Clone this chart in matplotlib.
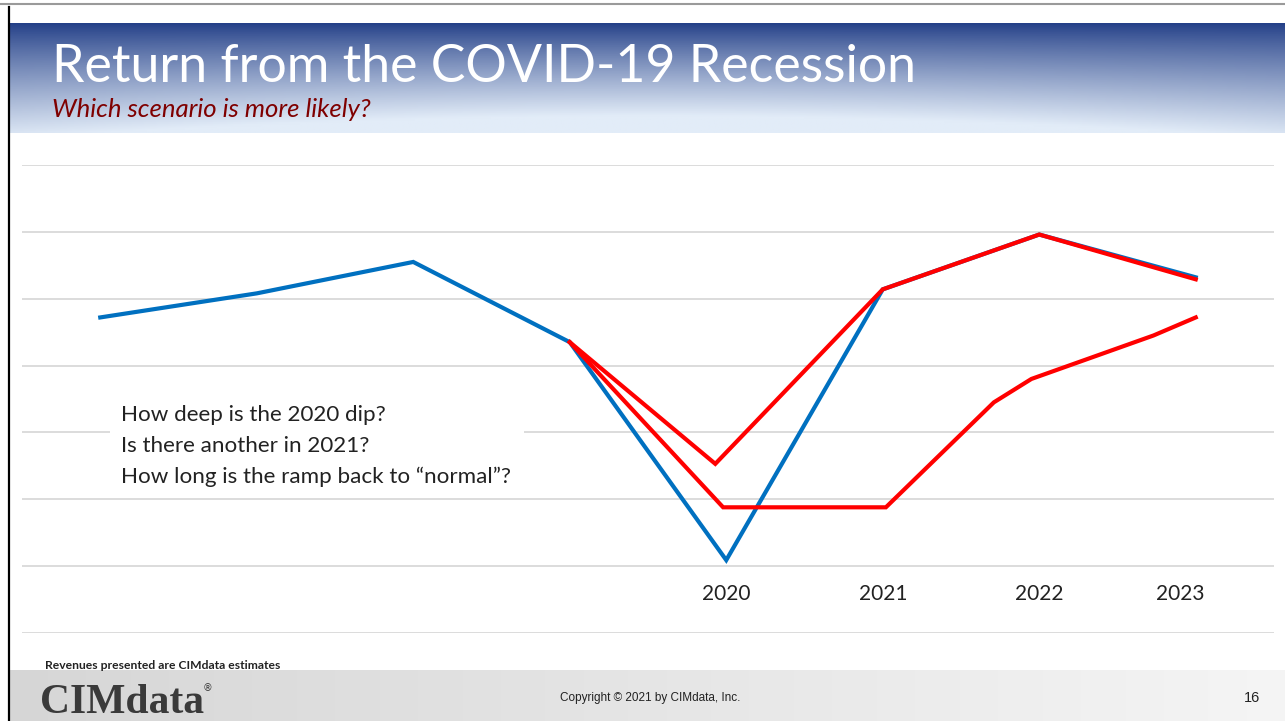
import matplotlib.pyplot as plt
import numpy as np
from matplotlib.patches import Rectangle
from matplotlib.lines import Line2D

# data (category index 0..7, value in gridline units)
blue_x = [0, 1, 2, 3, 4, 5, 6, 7]
blue_y = [4.72, 5.08, 5.55, 4.35, 1.09, 5.14, 5.96, 5.32]

red_v_x = [3, 3.93, 5, 6, 7]
red_v_y = [4.35, 2.53, 5.14, 5.96, 5.29]

red_slow_x = [3, 3.98, 5.02, 5.71, 5.95, 6.73, 7]
red_slow_y = [4.35, 1.88, 1.88, 3.45, 3.80, 4.45, 4.72]

year_labels = ["2020", "2021", "2022", "2023"]
year_pos = [4, 5, 6, 6.9]

questions = [
    "How deep is the 2020 dip?",
    "Is there another in 2021?",
    "How long is the ramp back to \u201cnormal\u201d?",
]

W, H = 1285, 721
fig = plt.figure(figsize=(W / 100, H / 100), dpi=100)
fig.patch.set_facecolor("white")


def fx(px):
    return px / W


def fy(py):
    return 1 - py / H


# header gradient band
hdr = fig.add_axes([fx(10), fy(133), fx(W - 10), (133 - 23) / H])
t = np.linspace(0, 1, 60)[:, None]
s = np.linspace(0, 1, 200)[None, :]
top = np.array([36, 64, 136]) / 255
bot = np.array([226, 236, 248]) / 255
mix = np.clip(t ** 0.85 * (0.8 + 0.2 * np.sin(np.pi * s)) + 0.15 * t, 0, 1)
img = top[None, None, :] * (1 - mix[..., None]) + bot[None, None, :] * mix[..., None]
hdr.imshow(img, aspect="auto", extent=[0, 1, 0, 1], origin="upper")
hdr.axis("off")

# footer gray band
ftr = fig.add_axes([fx(10), 0, fx(W - 10), (H - 670) / H])
g = np.linspace(0.84, 0.96, 200)[None, :]
ftr.imshow(np.repeat(g[..., None], 3, axis=2).repeat(10, axis=0), aspect="auto",
           extent=[0, 1, 0, 1])
ftr.axis("off")

# border lines
fig.add_artist(Line2D([fx(9), fx(9)], [fy(7), 0], color="black", lw=1.6))
fig.add_artist(Line2D([0, 1], [fy(4), fy(4)], color="#9a9a9a", lw=1.5))

# main chart
ax = fig.add_axes([fx(22), fy(633), fx(1274 - 22), (633 - 165) / H])
ax.set_xlim(-0.5, 7.5)
ax.set_ylim(0, 7)
ax.axis("off")
for v in range(8):
    ax.axhline(v, color="#d9d9d9", lw=1.3, zorder=1)

ax.add_patch(Rectangle((0.06, 2.06), 2.65, 1.5, facecolor="white",
                       edgecolor="none", zorder=2))

ax.plot(blue_x, blue_y, color="#0070C0", lw=3.0, zorder=3,
        solid_joinstyle="miter")
ax.plot(red_v_x, red_v_y, color="#FF0000", lw=3.0, zorder=4,
        solid_joinstyle="miter")
ax.plot(red_slow_x, red_slow_y, color="#FF0000", lw=3.0, zorder=4,
        solid_joinstyle="miter")

for lab, p in zip(year_labels, year_pos):
    ax.text(p, 0.58, lab, ha="center", va="center", fontsize=15,
            family="Lato", color="#222222", zorder=5)

for i, q in enumerate(questions):
    fig.text(fx(121), fy(415 + 31 * i), q, ha="left", va="center",
             fontsize=16.1, family="Lato", color="#222222")

# titles
fig.text(fx(52), fy(82), "Return from the COVID-19 Recession", ha="left",
         va="baseline", fontsize=37.4, family="Lato", color="white")
fig.text(fx(52), fy(117), "Which scenario is more likely?", ha="left",
         va="baseline", fontsize=18.5, family="Lato", style="italic",
         color="#7f0000")

# footer text
fig.text(fx(45), fy(669), "Revenues presented are CIMdata estimates",
         ha="left", va="baseline", fontsize=8.7, family="Lato",
         fontweight="bold", color="#222222")
fig.text(fx(40), fy(713), "CIMdata", ha="left", va="baseline", fontsize=30,
         family="Liberation Serif", fontweight="bold", color="#3a3a3a")
fig.text(fx(203), fy(691), "\u00ae", ha="left", va="baseline", fontsize=7,
         family="DejaVu Sans", color="#3a3a3a")
fig.text(fx(650), fy(698), "Copyright \u00a9 2021 by CIMdata, Inc.",
         ha="center", va="center", fontsize=8.5, family="Liberation Sans",
         color="#222222")
fig.text(fx(1252), fy(698), "16", ha="center", va="center", fontsize=10.5,
         family="Liberation Sans", color="#222222")

fig.savefig("out.png", dpi=100)
